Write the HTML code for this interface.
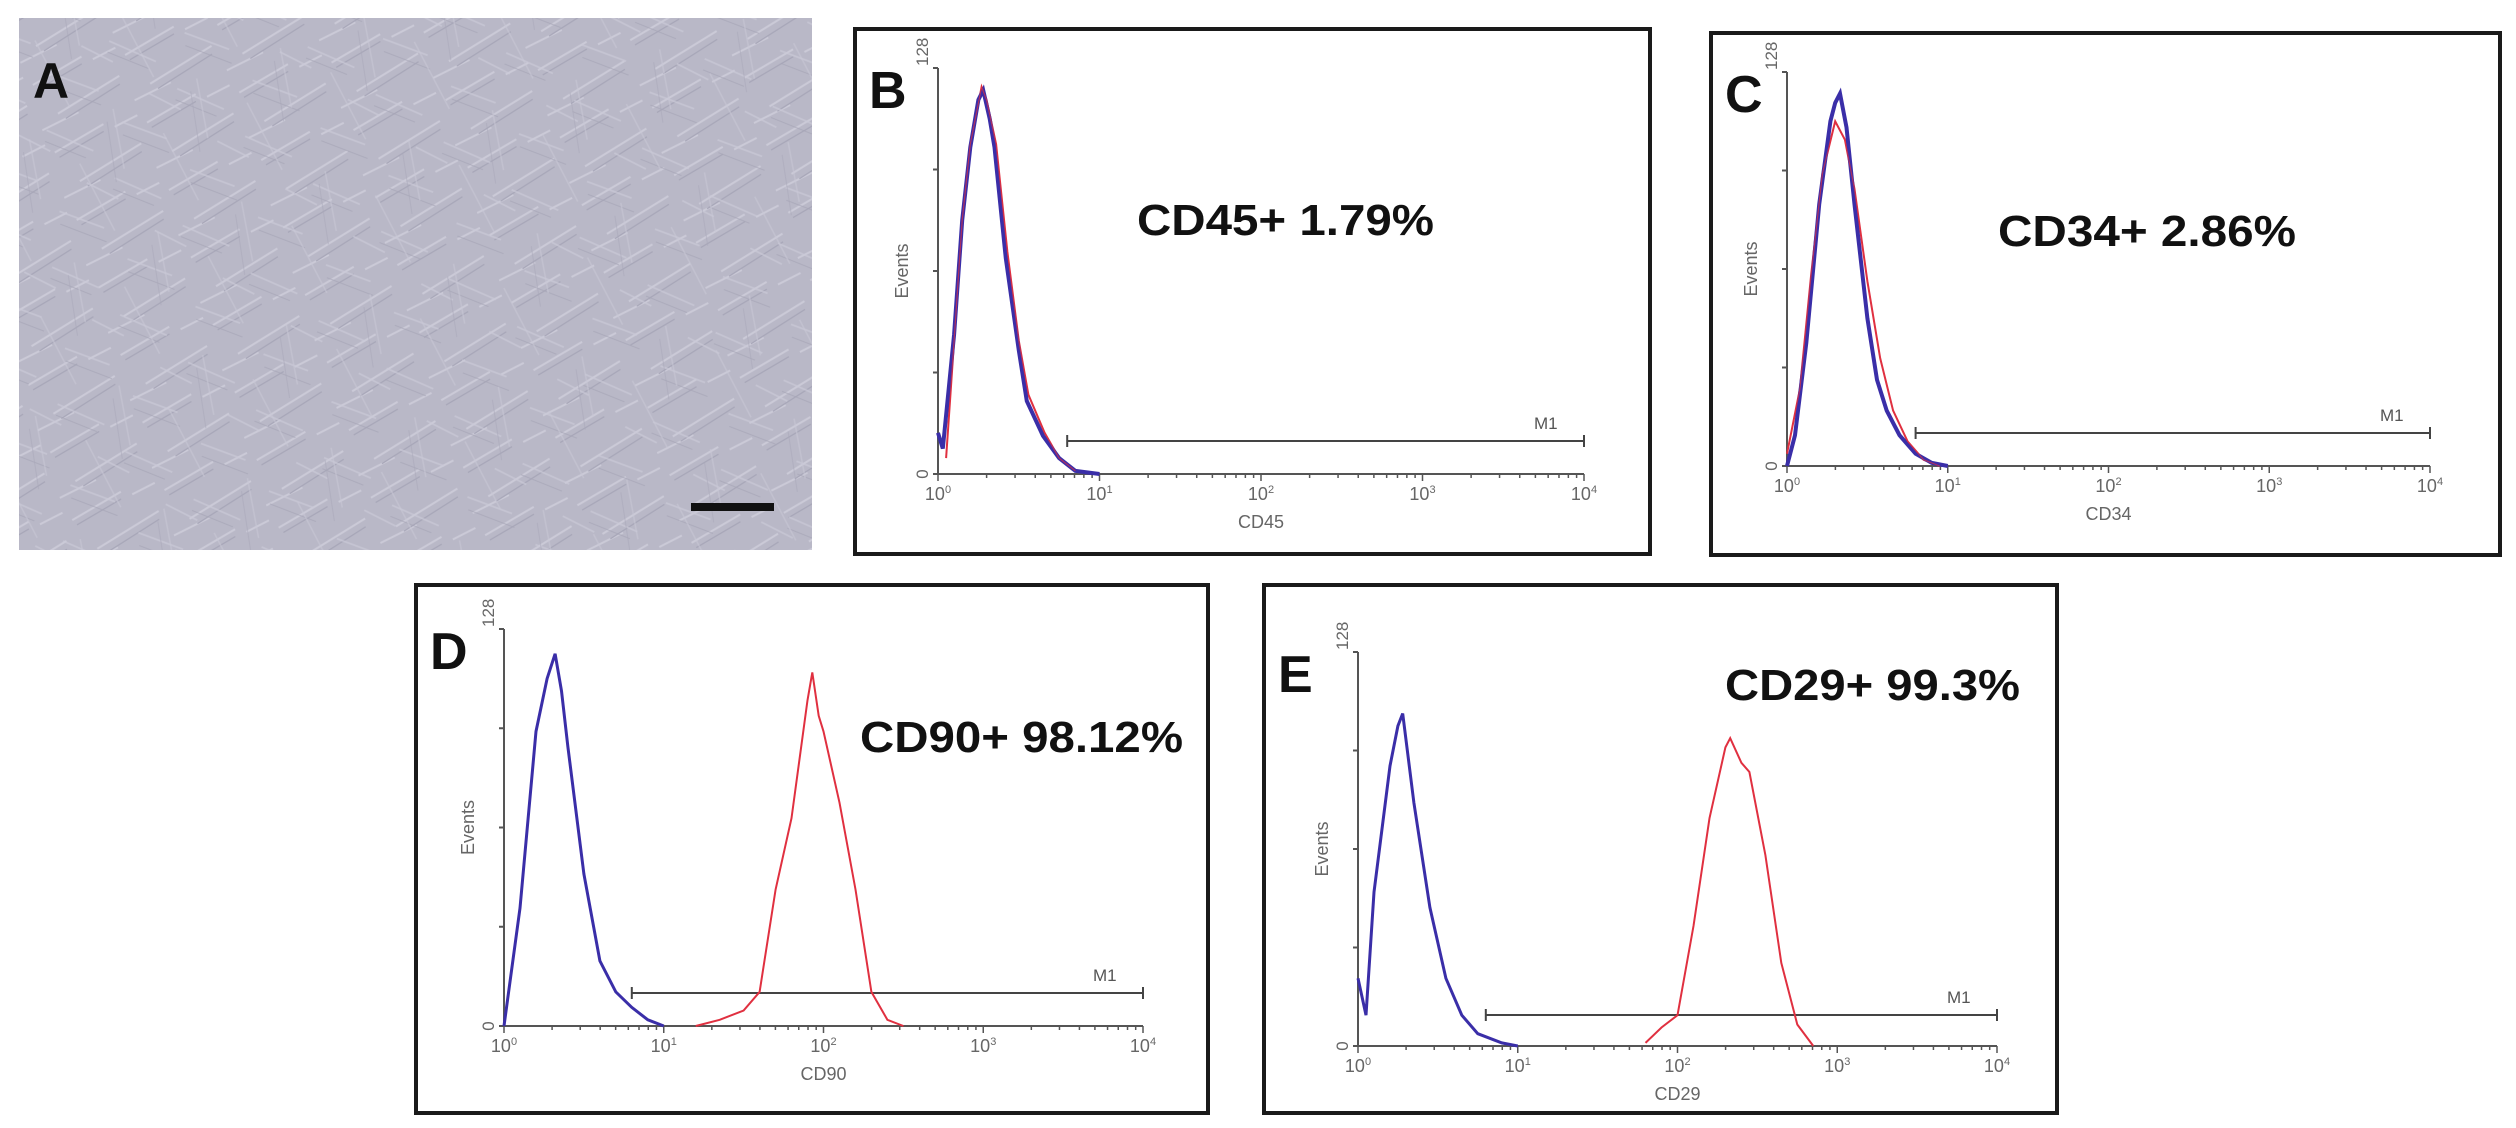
<!DOCTYPE html>
<html><head><meta charset="utf-8"><style>
html,body{margin:0;padding:0;background:#fff;}
svg{display:block;font-family:"Liberation Sans",sans-serif;}
</style></head><body>
<svg id="fig" width="2516" height="1128" viewBox="0 0 2516 1128">
<defs>
<pattern id="cells1" width="97" height="71" patternUnits="userSpaceOnUse" patternTransform="rotate(-18)">
<path d="M5 20 L60 8 M20 55 L90 38 M0 66 L40 60 M70 14 L95 10" stroke="#cfcedb" stroke-width="2" fill="none"/>
<path d="M8 26 L58 15 M26 62 L88 46" stroke="#a3a2b4" stroke-width="1.2" fill="none"/>
</pattern>
<pattern id="cells2" width="83" height="109" patternUnits="userSpaceOnUse" patternTransform="rotate(35)">
<path d="M4 30 L50 18 M30 80 L80 70 M10 100 L45 95" stroke="#cac9d7" stroke-width="1.8" fill="none"/>
<path d="M12 40 L60 28 M35 90 L78 80" stroke="#a6a5b6" stroke-width="1.1" fill="none"/>
</pattern>
<pattern id="cells3" width="131" height="89" patternUnits="userSpaceOnUse" patternTransform="rotate(70)">
<path d="M10 20 L70 30 M50 70 L125 60" stroke="#c8c7d5" stroke-width="1.6" fill="none"/>
<path d="M20 30 L80 42" stroke="#a9a8b9" stroke-width="1" fill="none"/>
</pattern>
</defs>
<g>
<rect x="19" y="18" width="793" height="532" fill="#b9b8c7"/>
<rect x="19" y="18" width="793" height="532" fill="url(#cells1)" opacity="0.8"/>
<rect x="19" y="18" width="793" height="532" fill="url(#cells2)" opacity="0.7"/>
<rect x="19" y="18" width="793" height="532" fill="url(#cells3)" opacity="0.6"/>
<text x="33" y="98" font-size="50" font-weight="bold" fill="#111">A</text>
<rect x="691" y="503" width="83" height="8" fill="#111"/>
</g>
</svg>
<script>
// Panel data (x in log10 fluorescence units 0..4, y in event counts 0..128)
const panelIds = ["B","C","D","E"];
const markers = ["CD45","CD34","CD90","CD29"];
const percentLabels = ["CD45+  1.79%","CD34+  2.86%","CD90+  98.12%","CD29+  99.3%"];
const xTickLabels = ["0","1","2","3","4"];
const yTickValues = [0,32,64,96,128];

const bBlueX = [0,0.03,0.1,0.15,0.2,0.25,0.28,0.32,0.35,0.42,0.5,0.55,0.65,0.75,0.85,1.0];
const bBlueY = [13,8,44,80,103,118,121,112,103,68,39,23,12,5,1,0];
const bRedX = [0.05,0.1,0.15,0.2,0.27,0.3,0.36,0.43,0.5,0.56,0.66,0.75,0.85];
const bRedY = [5,42,80,104,122,118,104,70,42,25,13,5,1];

const cBlueX = [0,0.05,0.12,0.2,0.27,0.3,0.33,0.37,0.42,0.5,0.56,0.62,0.7,0.8,0.9,1.0];
const cBlueY = [0,10,40,85,112,118,121,110,85,48,28,18,10,4,1,0];
const cRedX = [0,0.08,0.15,0.22,0.3,0.36,0.42,0.5,0.58,0.66,0.75,0.85,0.95];
const cRedY = [4,25,62,95,112,106,90,60,35,18,8,2,0];

const dBlueX = [0,0.1,0.2,0.27,0.32,0.36,0.4,0.5,0.6,0.7,0.8,0.9,1.0];
const dBlueY = [0,38,95,112,120,108,90,49,21,11,6,2,0];
const dRedX = [1.2,1.35,1.5,1.6,1.7,1.8,1.9,1.93,1.97,2.0,2.1,2.2,2.3,2.4,2.5];
const dRedY = [0,2,5,11,44,67,105,114,100,95,72,44,11,2,0];

const eBlueX = [0,0.05,0.1,0.2,0.25,0.28,0.35,0.45,0.55,0.65,0.75,0.9,1.0];
const eBlueY = [22,10,50,91,104,108,79,45,22,10,4,1,0];
const eRedX = [1.8,1.9,2.0,2.1,2.2,2.3,2.33,2.4,2.45,2.55,2.65,2.75,2.85];
const eRedY = [1,6,10,39,74,97,100,92,89,62,27,7,0];

const blueSeries = [[bBlueX,bBlueY],[cBlueX,cBlueY],[dBlueX,dBlueY],[eBlueX,eBlueY]];
const redSeries = [[bRedX,bRedY],[cRedX,cRedY],[dRedX,dRedY],[eRedX,eRedY]];
const gateStart = [0.8,0.8,0.8,0.8];

// Layout (pixels)
const layout = [
 {bx:855,by:29,bw:795,bh:525,x0:938,x4:1584,yt:68,y0:474,tx:1137,ty:235,tw:297,gy:441},
 {bx:1711,by:33,bw:789,bh:522,x0:1787,x4:2430,yt:72,y0:466,tx:1998,ty:246,tw:298,gy:433},
 {bx:416,by:585,bw:792,bh:528,x0:504,x4:1143,yt:629,y0:1026,tx:860,ty:752,tw:323,gy:993},
 {bx:1264,by:585,bw:793,bh:528,x0:1358,x4:1997,yt:652,y0:1046,tx:1725,ty:700,tw:295,gy:1015}
];
const NS="http://www.w3.org/2000/svg";
const fig=document.getElementById('fig');
function mk(tag,attrs,parent){const e=document.createElementNS(NS,tag);for(const k in attrs)e.setAttribute(k,attrs[k]);(parent||fig).appendChild(e);return e;}

layout.forEach((L,i)=>{
  const g=mk('g',{});
  
  
  const sx=v=>L.x0+(L.x4-L.x0)*v/4;
  const sy=v=>L.y0-(L.y0-L.yt)*v/128;
  const box=mk('rect',{x:L.bx,y:L.by,width:L.bw,height:L.bh,fill:'none',stroke:'#1a1a1a','stroke-width':4},g);
  
  
  const lab=mk('text',{x:L.bx+14,y:L.yt+40,'font-size':52,'font-weight':'bold',fill:'#111'},g);
  lab.textContent=panelIds[i];
  
  
  const ya=mk('line',{x1:L.x0,y1:L.yt,x2:L.x0,y2:L.y0,stroke:'#555','stroke-width':2},g);
  
  
  yTickValues.forEach(v=>{
    const t=mk('line',{x1:L.x0-5,y1:sy(v),x2:L.x0,y2:sy(v),stroke:'#555','stroke-width':2},g);
    
    
  });
  [[0,'0'],[128,'128']].forEach(([v,s])=>{
    const t=mk('text',{x:0,y:0,'font-size':17,fill:'#666','text-anchor':v?'start':'middle',transform:`translate(${L.x0-10},${sy(v)+(v?-2:0)}) rotate(-90)`},g);
    t.textContent=s;
    
    
  });
  const yt=mk('text',{x:0,y:0,'font-size':18,fill:'#666','text-anchor':'middle',transform:`translate(${L.x0-30},${(L.yt+L.y0)/2}) rotate(-90)`},g);
  yt.textContent='Events';
  
  
  const xa=mk('line',{x1:L.x0,y1:L.y0,x2:L.x4,y2:L.y0,stroke:'#555','stroke-width':2},g);
  
  
  for(let d=0;d<4;d++){for(let m=1;m<10;m++){
    const v=d+Math.log10(m);
    const t=mk('line',{x1:sx(v),y1:L.y0,x2:sx(v),y2:L.y0+(m===1?7:4),stroke:'#555','stroke-width':1.5},g);
    
    
  }}
  mk('line',{x1:sx(4),y1:L.y0,x2:sx(4),y2:L.y0+7,stroke:'#555','stroke-width':1.5},g);
  xTickLabels.forEach((s,k)=>{
    const t=mk('text',{x:sx(k),y:L.y0+26,'font-size':18,fill:'#666','text-anchor':'middle'},g);
    t.textContent='10';
    const sp=mk('tspan',{dy:-7,'font-size':11},t);
    sp.textContent=s;
    
    
  });
  const xt=mk('text',{x:sx(2),y:L.y0+54,'font-size':18,fill:'#666','text-anchor':'middle'},g);
  xt.textContent=markers[i];
  
  
  const gl=mk('line',{x1:sx(gateStart[i]),y1:L.gy,x2:L.x4,y2:L.gy,stroke:'#444','stroke-width':2},g);
  
  
  [sx(gateStart[i]),L.x4].forEach(x=>mk('line',{x1:x,y1:L.gy-6,x2:x,y2:L.gy+6,stroke:'#444','stroke-width':2},g));
  const ml=mk('text',{x:L.x4-50,y:L.gy-12,'font-size':17,fill:'#555'},g);
  ml.textContent='M1';
  
  
  const pts=(xs,ys)=>xs.map((x,k)=>sx(x).toFixed(1)+','+sy(ys[k]).toFixed(1)).join(' ');
  const red=mk('polyline',{points:pts(redSeries[i][0],redSeries[i][1]),fill:'none',stroke:'#e03040','stroke-width':2},g);
  
  
  const blue=mk('polyline',{points:pts(blueSeries[i][0],blueSeries[i][1]),fill:'none',stroke:'#3a2ea8','stroke-width':i<2?4:3},g);
  
  
  if(i<2){mk('polyline',{points:pts(redSeries[i][0],redSeries[i][1]),fill:'none',stroke:'#e03040','stroke-width':1.2,opacity:0.7},g);}
  const pl=mk('text',{x:L.tx,y:L.ty,'font-size':44,'font-weight':'bold',fill:'#111',textLength:L.tw,lengthAdjust:'spacingAndGlyphs'},g);
  pl.textContent=percentLabels[i];
  
  
});
</script>
</body></html>
